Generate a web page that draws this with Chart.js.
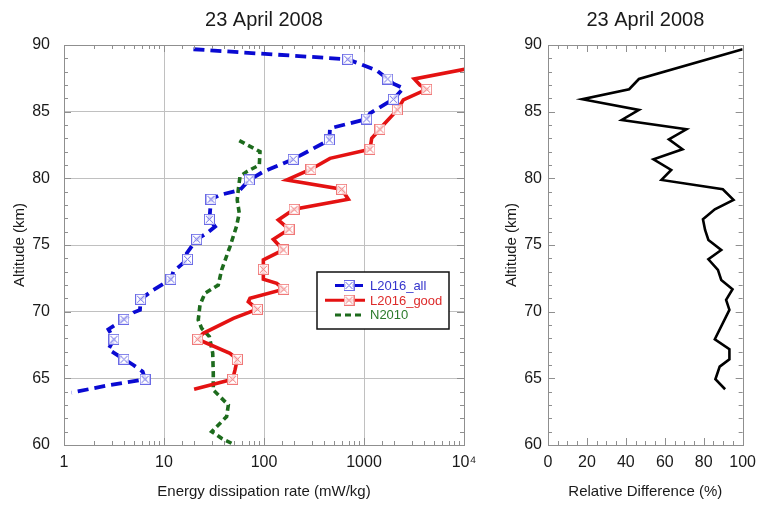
<!DOCTYPE html>
<html>
<head>
<meta charset="utf-8">
<script src="https://cdn.jsdelivr.net/npm/chart.js@4"></script>
<style>
  html, body { margin: 0; padding: 0; background: #fff; overflow: hidden; }
  #wrap { position: relative; width: 764px; height: 506px; }
  canvas { position: absolute; top: 0; }
  #left  { left: 0; }
  #right { left: 490px; }
</style>
</head>
<body>
<div id="wrap">
  <canvas id="left" width="490" height="506"></canvas>
  <canvas id="right" width="274" height="506"></canvas>
</div>
<script>
// ── Data ────────────────────────────────────────────────────────────────────

// L2016_all: altitude (km), dissipation rate (mW/kg), marker flag
const allAlt  = [89.68, 88.93, 88.1, 87.45, 87.1, 86.75, 85.93, 84.88, 84.45, 83.75, 82.88, 81.43, 80.5, 79.88, 79.13, 78.75, 78.43, 77.4, 76.93, 76.38, 75.88, 75.43, 74.38, 73.93, 73.0, 72.43, 71.63, 70.93, 70.13, 69.93, 69.43, 68.68, 67.93, 67.18, 66.43, 66.0, 65.5, 64.93, 64.5, 63.93];
const allVal  = [19.7, 687, 1339, 1726, 1964, 2473, 1964, 1148, 1063, 457, 450, 196, 98.5, 71.3, 57.5, 36.3, 29.5, 28.8, 28.4, 32.4, 26.7, 21.2, 16.9, 17.2, 12.4, 11.7, 7.82, 5.84, 5.75, 4.94, 3.98, 2.78, 3.16, 2.78, 3.98, 4.94, 6.12, 6.46, 2.88, 1.19];
const allMark = [0, 1, 0, 1, 0, 0, 1, 0, 1, 0, 1, 1, 0, 1, 0, 0, 1, 0, 1, 0, 0, 1, 0, 1, 0, 1, 0, 1, 0, 0, 1, 0, 1, 0, 1, 0, 0, 1, 0, 0];

// L2016_good
const goodAlt  = [88.2, 87.45, 87.0, 86.68, 85.88, 85.13, 84.0, 83.68, 83.0, 82.18, 81.5, 80.68, 79.88, 79.18, 78.43, 77.68, 76.88, 76.18, 75.43, 74.63, 73.88, 73.18, 72.43, 72.13, 71.68, 71.0, 70.75, 70.18, 69.5, 68.38, 67.93, 66.88, 66.43, 65.63, 64.93, 64.18];
const goodVal  = [10500, 3186, 3631, 4236, 2473, 2153, 1560, 1445, 1194, 1148, 457, 295, 169, 598, 697, 200, 139, 178, 124, 156, 98.5, 98.5, 98.5, 134, 158, 72.4, 69.7, 85.8, 49.4, 24.7, 21.7, 45.7, 54.1, 51.3, 48.6, 20];
const goodMark = [0, 0, 0, 1, 0, 1, 0, 1, 0, 1, 0, 1, 0, 1, 0, 1, 0, 1, 0, 1, 0, 1, 0, 0, 1, 0, 0, 1, 0, 0, 1, 0, 1, 0, 1, 0];

// N2010
const n2010Alt = [82.83, 82.0, 81.0, 80.5, 80.13, 79.13, 78.38, 77.38, 76.38, 74.88, 73.13, 72.0, 71.38, 70.5, 69.38, 68.75, 68.13, 66.88, 65.38, 64.13, 63.0, 62.13, 61.0, 60.5, 60.0];
const n2010Val = [56.6, 91.2, 89.8, 67.1, 57.5, 55.3, 54, 56.6, 53, 45.7, 37.7, 34.9, 25.7, 22.9, 22.0, 23.8, 28.4, 30.7, 31.1, 31.1, 44, 42.3, 30, 37.7, 51.3];

// Relative difference (%)
const diffAlt = [89.68, 87.45, 86.68, 85.93, 85.13, 84.38, 83.68, 82.93, 82.18, 81.43, 80.63, 79.88, 79.18, 78.38, 77.68, 76.93, 76.13, 75.38, 74.63, 73.93, 73.13, 72.38, 71.68, 70.88, 70.13, 67.93, 67.18, 66.43, 65.88, 64.93, 64.18];
const diffVal = [100, 46.7, 41.7, 17.6, 46.7, 37.9, 71.1, 62.1, 69.1, 54.2, 63.3, 58.3, 89.8, 95.3, 85.7, 79.6, 80.7, 82.4, 89.0, 82.4, 87.3, 89.0, 94.8, 91.5, 93.2, 85.7, 93.2, 93.2, 88.2, 86.0, 91.0];

const panelTitle = '23 April 2008';
const xLabelLeft  = 'Energy dissipation rate (mW/kg)';
const xLabelRight = 'Relative Difference (%)';
const yLabel      = 'Altitude (km)';

// ── Styling ─────────────────────────────────────────────────────────────────

const FONT      = "'Liberation Sans', Arial, Helvetica, sans-serif";
const textColor = '#1a1a1a';
const gridColor = '#c0c0c0';
const frameColor = '#8f8f8f';
const blue  = '#0a0ad2';
const red   = '#e41212';
const green = '#1d6b1d';

const allDash   = [11, 6];
const n2010Dash = [6, 4];

Chart.defaults.font.family = FONT;
Chart.defaults.color = textColor;

function makeMarker(color) {
  const c = document.createElement('canvas');
  c.width = 11; c.height = 11;
  const g = c.getContext('2d');
  g.fillStyle = 'rgba(255,255,255,0.85)';
  g.fillRect(0.5, 0.5, 10, 10);
  g.strokeStyle = color;
  g.lineWidth = 1;
  g.strokeRect(0.5, 0.5, 10, 10);
  g.beginPath();
  g.moveTo(2, 2); g.lineTo(9, 9);
  g.moveTo(9, 2); g.lineTo(2, 9);
  g.stroke();
  return c;
}
const blueMarker = makeMarker('#6a6ae6');
const redMarker  = makeMarker('#f07878');

const toXY = (alts, vals) => alts.map((a, i) => ({ x: vals[i], y: a }));
const isDecade = v => Math.abs(Math.log10(v) - Math.round(Math.log10(v))) < 1e-9;

// frame + inward tick marks on all four sides
const frameTicks = {
  id: 'frameTicks',
  afterDatasetsDraw(chart, args, opts) {
    const { ctx, chartArea: a, scales: { x, y } } = chart;
    ctx.save();
    ctx.strokeStyle = frameColor;
    ctx.lineWidth = 1;
    ctx.beginPath();
    for (const t of x.ticks) {
      const px = Math.round(x.getPixelForValue(t.value)) + 0.5;
      const len = opts.xMajor(t.value) ? 7 : 4;
      ctx.moveTo(px, a.bottom); ctx.lineTo(px, a.bottom - len);
      ctx.moveTo(px, a.top);    ctx.lineTo(px, a.top + len);
    }
    for (const t of y.ticks) {
      const py = Math.round(y.getPixelForValue(t.value)) + 0.5;
      const len = t.value % 5 === 0 ? 7 : 4;
      ctx.moveTo(a.left, py);  ctx.lineTo(a.left + len, py);
      ctx.moveTo(a.right, py); ctx.lineTo(a.right - len, py);
    }
    ctx.stroke();
    ctx.strokeRect(Math.round(a.left) + 0.5, Math.round(a.top) + 0.5,
                   Math.round(a.right - a.left), Math.round(a.bottom - a.top));
    ctx.restore();
  },
};

// boxed legend inside the left plot
const boxLegend = {
  id: 'boxLegend',
  afterDraw(chart) {
    const { ctx, chartArea: a } = chart;
    const bx = a.left + 253, by = a.top + 227, bw = 132, bh = 57;
    ctx.save();
    ctx.fillStyle = '#fff';
    ctx.fillRect(bx, by, bw, bh);
    ctx.strokeStyle = '#111';
    ctx.lineWidth = 1.5;
    ctx.strokeRect(bx, by, bw, bh);

    const rows = [
      { label: 'L2016_all',  color: blue,  text: '#3434cc', dash: allDash,   x0: 18, marker: blueMarker },
      { label: 'L2016_good', color: red,   text: '#dd2a2a', dash: [],        x0: 8,  marker: redMarker },
      { label: 'N2010',      color: green, text: '#2a7a2a', dash: n2010Dash, x0: 18, marker: null },
    ];
    ctx.font = '13px ' + FONT;
    ctx.textBaseline = 'middle';
    rows.forEach((r, i) => {
      const ly = by + 13.5 + i * 14.7;
      ctx.strokeStyle = r.color;
      ctx.lineWidth = 3;
      ctx.setLineDash(r.dash);
      ctx.beginPath();
      ctx.moveTo(bx + r.x0, ly);
      ctx.lineTo(bx + 48, ly);
      ctx.stroke();
      ctx.setLineDash([]);
      if (r.marker) ctx.drawImage(r.marker, bx + 32 - 5.5, ly - 5.5);
      ctx.fillStyle = r.text;
      ctx.fillText(r.label, bx + 53, ly + 1);
    });
    ctx.restore();
  },
};

const titleOpts = {
  display: true,
  text: panelTitle,
  fullSize: false,
  color: textColor,
  font: { size: 20, weight: 'normal' },
  padding: { top: 8, bottom: 13 },
};

// ── Left panel: dissipation rate profiles ───────────────────────────────────

new Chart(document.getElementById('left'), {
  type: 'scatter',
  data: {
    datasets: [
      {
        label: 'L2016_all',
        data: toXY(allAlt, allVal),
        showLine: true,
        borderColor: blue,
        borderWidth: 3.8,
        borderDash: allDash,
        pointStyle: blueMarker,
        pointRadius: allMark.map(m => m ? 5 : 0),
      },
      {
        label: 'L2016_good',
        data: toXY(goodAlt, goodVal),
        showLine: true,
        borderColor: red,
        borderWidth: 3.6,
        pointStyle: redMarker,
        pointRadius: goodMark.map(m => m ? 5 : 0),
      },
      {
        label: 'N2010',
        data: toXY(n2010Alt, n2010Val),
        showLine: true,
        borderColor: green,
        borderWidth: 3.6,
        borderDash: n2010Dash,
        pointRadius: 0,
      },
    ],
  },
  options: {
    responsive: false,
    animation: false,
    devicePixelRatio: 1,
    layout: { padding: { left: 0, right: 26, top: 0, bottom: 0 } },
    plugins: {
      legend: { display: false },
      tooltip: { enabled: false },
      title: titleOpts,
      frameTicks: { xMajor: isDecade },
    },
    scales: {
      x: {
        type: 'logarithmic',
        min: 1, max: 10000,
        border: { display: false },
        grid: {
          drawTicks: false,
          color: ctx => (ctx.tick && isDecade(ctx.tick.value)) ? gridColor : 'rgba(0,0,0,0)',
        },
        ticks: {
          autoSkip: false,
          maxRotation: 0,
          padding: 8,
          font: { size: 16 },
          color: textColor,
          callback: v => isDecade(v) ? (v === 10000 ? '10⁴' : String(v)) : '',
        },
        title: {
          display: true,
          text: xLabelLeft,
          color: textColor,
          font: { size: 15 },
          padding: { top: 0, bottom: 5 },
        },
        afterFit: s => { s.height = 61; },
      },
      y: {
        min: 60, max: 90,
        border: { display: false },
        grid: {
          drawTicks: false,
          color: ctx => (ctx.tick && ctx.tick.value % 5 === 0) ? gridColor : 'rgba(0,0,0,0)',
        },
        ticks: {
          stepSize: 1,
          autoSkip: false,
          padding: 14,
          font: { size: 16 },
          color: textColor,
          callback: v => v % 5 === 0 ? String(v) : '',
        },
        title: {
          display: true,
          text: yLabel,
          color: textColor,
          font: { size: 15 },
          padding: { top: 11, bottom: 0 },
        },
        afterFit: s => { s.width = 64; },
      },
    },
  },
  plugins: [frameTicks, boxLegend],
});

// ── Right panel: relative difference ────────────────────────────────────────

new Chart(document.getElementById('right'), {
  type: 'scatter',
  data: {
    datasets: [{
      label: 'Relative Difference',
      data: toXY(diffAlt, diffVal),
      showLine: true,
      borderColor: '#000',
      borderWidth: 2.6,
      pointRadius: 0,
    }],
  },
  options: {
    responsive: false,
    animation: false,
    devicePixelRatio: 1,
    layout: { padding: { left: 0, right: 15.3, top: 0, bottom: 0 } },
    plugins: {
      legend: { display: false },
      tooltip: { enabled: false },
      title: titleOpts,
      frameTicks: { xMajor: v => v % 20 === 0 },
    },
    scales: {
      x: {
        min: 0, max: 100,
        border: { display: false },
        grid: { display: false, drawTicks: false },
        ticks: {
          stepSize: 5,
          autoSkip: false,
          maxRotation: 0,
          padding: 8,
          font: { size: 16 },
          color: textColor,
          callback: v => v % 20 === 0 ? String(v) : '',
        },
        title: {
          display: true,
          text: xLabelRight,
          color: textColor,
          font: { size: 15 },
          padding: { top: 0, bottom: 5 },
        },
        afterFit: s => { s.height = 61; },
      },
      y: {
        min: 60, max: 90,
        border: { display: false },
        grid: { display: false, drawTicks: false },
        ticks: {
          stepSize: 1,
          autoSkip: false,
          padding: 6,
          font: { size: 16 },
          color: textColor,
          callback: v => v % 5 === 0 ? String(v) : '',
        },
        title: {
          display: true,
          text: yLabel,
          color: textColor,
          font: { size: 15 },
          padding: { top: 13, bottom: 0 },
        },
        afterFit: s => { s.width = 58; },
      },
    },
  },
  plugins: [frameTicks],
});
</script>
</body>
</html>
